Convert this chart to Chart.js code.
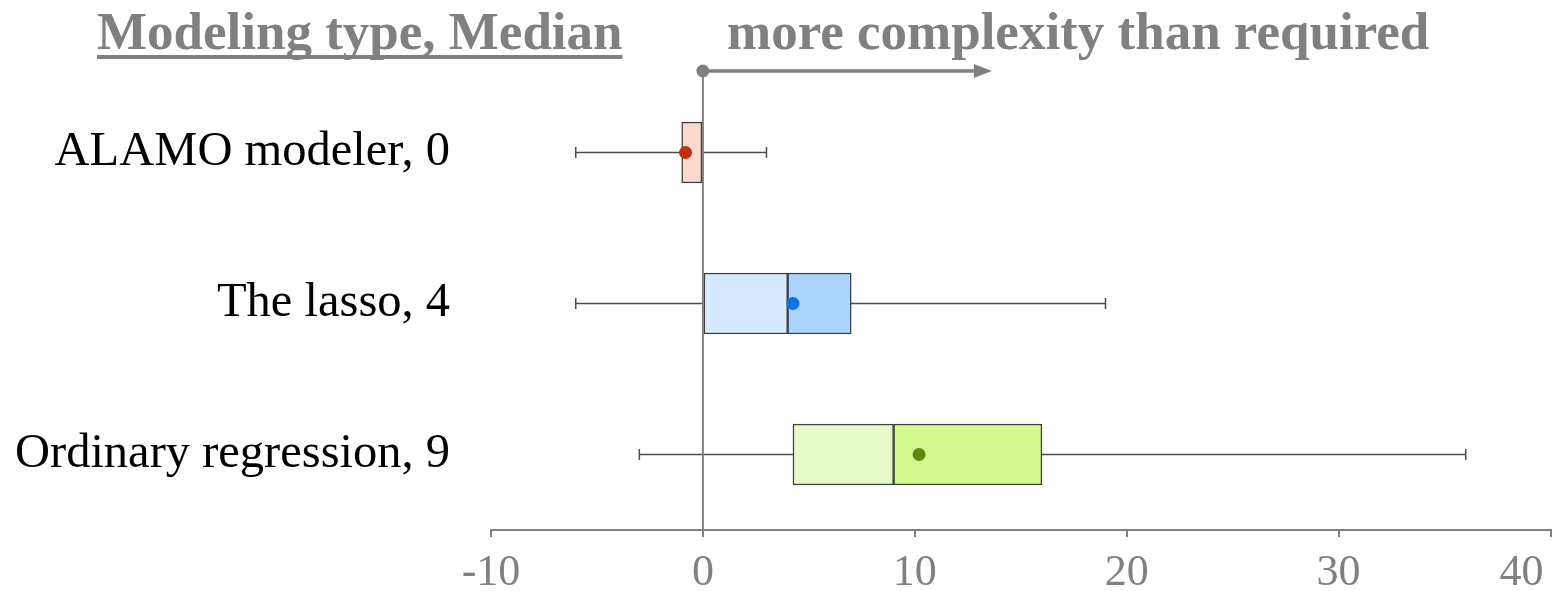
<!DOCTYPE html>
<html>
<head>
<meta charset="utf-8">
<script src="https://cdn.jsdelivr.net/npm/chart.js@4.4.1/dist/chart.umd.min.js"></script>
<style>
  html, body { margin: 0; padding: 0; background: #ffffff; }
  #wrap { width: 1557px; height: 591px; position: relative; }
</style>
</head>
<body>
<div id="wrap"><canvas id="chart"></canvas></div>
<script>
// Five-number summaries per modeling type (difference in model terms)
const categories = ['ALAMO modeler, 0', 'The lasso, 4', 'Ordinary regression, 9'];
const whiskerLow = [-6, -6, -3];
const q1 = [-1, 0, 4.25];
const medians = [0, 4, 9];
const q3 = [0, 7, 16];
const whiskerHigh = [3, 19, 36];
const means = [-0.82, 4.25, 10.2];
const xTicks = [-10, 0, 10, 20, 30, 40];

const lowerColors = ['#fdd8cc', '#d6eafe', '#e7f9c6'];
const upperColors = ['#fcc5b5', '#aad3fe', '#d3f88b'];
const meanColors = ['#c32d0c', '#0a73e8', '#5b8b0c'];

const GRAY = '#808080';
const SERIF = '"Liberation Serif", "Times New Roman", serif';

// whiskers behind the boxes, zero line + arrow and headings on top
const boxPlotExtras = {
  id: 'boxPlotExtras',
  beforeDraw(chart) {
    // keep the last x label inside the canvas
    const items = chart.scales.x.getLabelItems();
    const last = items[items.length - 1];
    if (last && !last._nudged) {
      last.options.translation[0] -= 29;
      last._nudged = true;
    }
  },
  beforeDatasetsDraw(chart) {
    const { ctx, scales: { x, y } } = chart;
    ctx.save();
    ctx.strokeStyle = '#4d4d4d';
    ctx.lineWidth = 1.5;
    categories.forEach((c, i) => {
      const yc = y.getPixelForValue(i);
      const xa = x.getPixelForValue(whiskerLow[i]);
      const xb = x.getPixelForValue(whiskerHigh[i]);
      ctx.beginPath();
      ctx.moveTo(xa, yc); ctx.lineTo(xb, yc);
      ctx.moveTo(xa, yc - 5.5); ctx.lineTo(xa, yc + 5.5);
      ctx.moveTo(xb, yc - 5.5); ctx.lineTo(xb, yc + 5.5);
      ctx.stroke();
    });
    ctx.restore();
  },
  afterDatasetsDraw(chart) {
    const { ctx, chartArea, scales: { x } } = chart;
    const x0 = x.getPixelForValue(0);
    const arrowY = 71;
    ctx.save();
    ctx.strokeStyle = GRAY;
    ctx.fillStyle = GRAY;
    // vertical reference at zero
    ctx.lineWidth = 2;
    ctx.beginPath();
    ctx.moveTo(x0, arrowY);
    ctx.lineTo(x0, chartArea.bottom);
    ctx.stroke();
    // arrow pointing to larger values
    ctx.lineWidth = 3.5;
    ctx.beginPath();
    ctx.moveTo(x0, arrowY);
    ctx.lineTo(x0 + 274, arrowY);
    ctx.stroke();
    ctx.beginPath();
    ctx.moveTo(x0 + 289, arrowY);
    ctx.lineTo(x0 + 271, arrowY - 7);
    ctx.lineTo(x0 + 271, arrowY + 7);
    ctx.closePath();
    ctx.fill();
    ctx.beginPath();
    ctx.arc(x0, arrowY, 6.5, 0, Math.PI * 2);
    ctx.fill();
    ctx.restore();
  },
  afterDraw(chart) {
    const { ctx } = chart;
    ctx.save();
    ctx.fillStyle = GRAY;
    ctx.font = 'bold 53px ' + SERIF;
    ctx.textBaseline = 'alphabetic';
    ctx.textAlign = 'left';
    const head = 'Modeling type, Median';
    ctx.fillText(head, 97, 49);
    const w = ctx.measureText(head).width;
    ctx.fillRect(97, 55, w, 4);
    ctx.fillText('more complexity than required', 727, 49);
    ctx.restore();
  }
};

new Chart(document.getElementById('chart'), {
  type: 'bar',
  data: {
    labels: categories,
    datasets: [
      {
        type: 'line',
        label: 'Mean',
        data: means,
        showLine: false,
        pointRadius: 6.5,
        pointHoverRadius: 6.5,
        pointBorderWidth: 0,
        pointBackgroundColor: meanColors,
        order: 0,
        clip: false
      },
      {
        label: 'Q1 to median',
        data: categories.map((c, i) => [q1[i], medians[i]]),
        backgroundColor: lowerColors,
        borderColor: '#3f3f3f',
        borderWidth: 1.5,
        borderSkipped: false,
        barThickness: 61,
        grouped: false,
        order: 1
      },
      {
        label: 'Median to Q3',
        data: categories.map((c, i) => [medians[i], q3[i]]),
        backgroundColor: upperColors,
        borderColor: '#3f3f3f',
        borderWidth: 1.5,
        borderSkipped: false,
        barThickness: 61,
        grouped: false,
        order: 1
      }
    ]
  },
  options: {
    indexAxis: 'y',
    responsive: true,
    maintainAspectRatio: false,
    animation: false,
    layout: { padding: { top: 77, right: 2, bottom: 0, left: 0 } },
    plugins: {
      legend: { display: false },
      tooltip: { enabled: false },
      title: { display: false }
    },
    scales: {
      x: {
        type: 'linear',
        position: 'bottom',
        min: -10,
        max: 40,
        afterBuildTicks: (s) => { s.ticks = xTicks.map(v => ({ value: v })); },
        afterFit: (s) => { s.height = 61; s.paddingRight = 0; },
        grid: {
          drawOnChartArea: false,
          drawTicks: true,
          tickLength: 7,
          color: GRAY,
          lineWidth: 2
        },
        border: { display: true, color: GRAY, width: 2 },
        ticks: {
          color: GRAY,
          padding: 10,
          maxRotation: 0,
          font: { family: SERIF, size: 44 }
        }
      },
      y: {
        type: 'category',
        afterFit: (s) => { s.width = 491; s.paddingTop = 0; s.paddingBottom = 0; },
        grid: { display: false, drawTicks: false },
        border: { display: false },
        ticks: {
          color: '#000000',
          padding: 41,
          font: { family: SERIF, size: 48.5 }
        }
      }
    }
  },
  plugins: [boxPlotExtras]
});
</script>
</body>
</html>
